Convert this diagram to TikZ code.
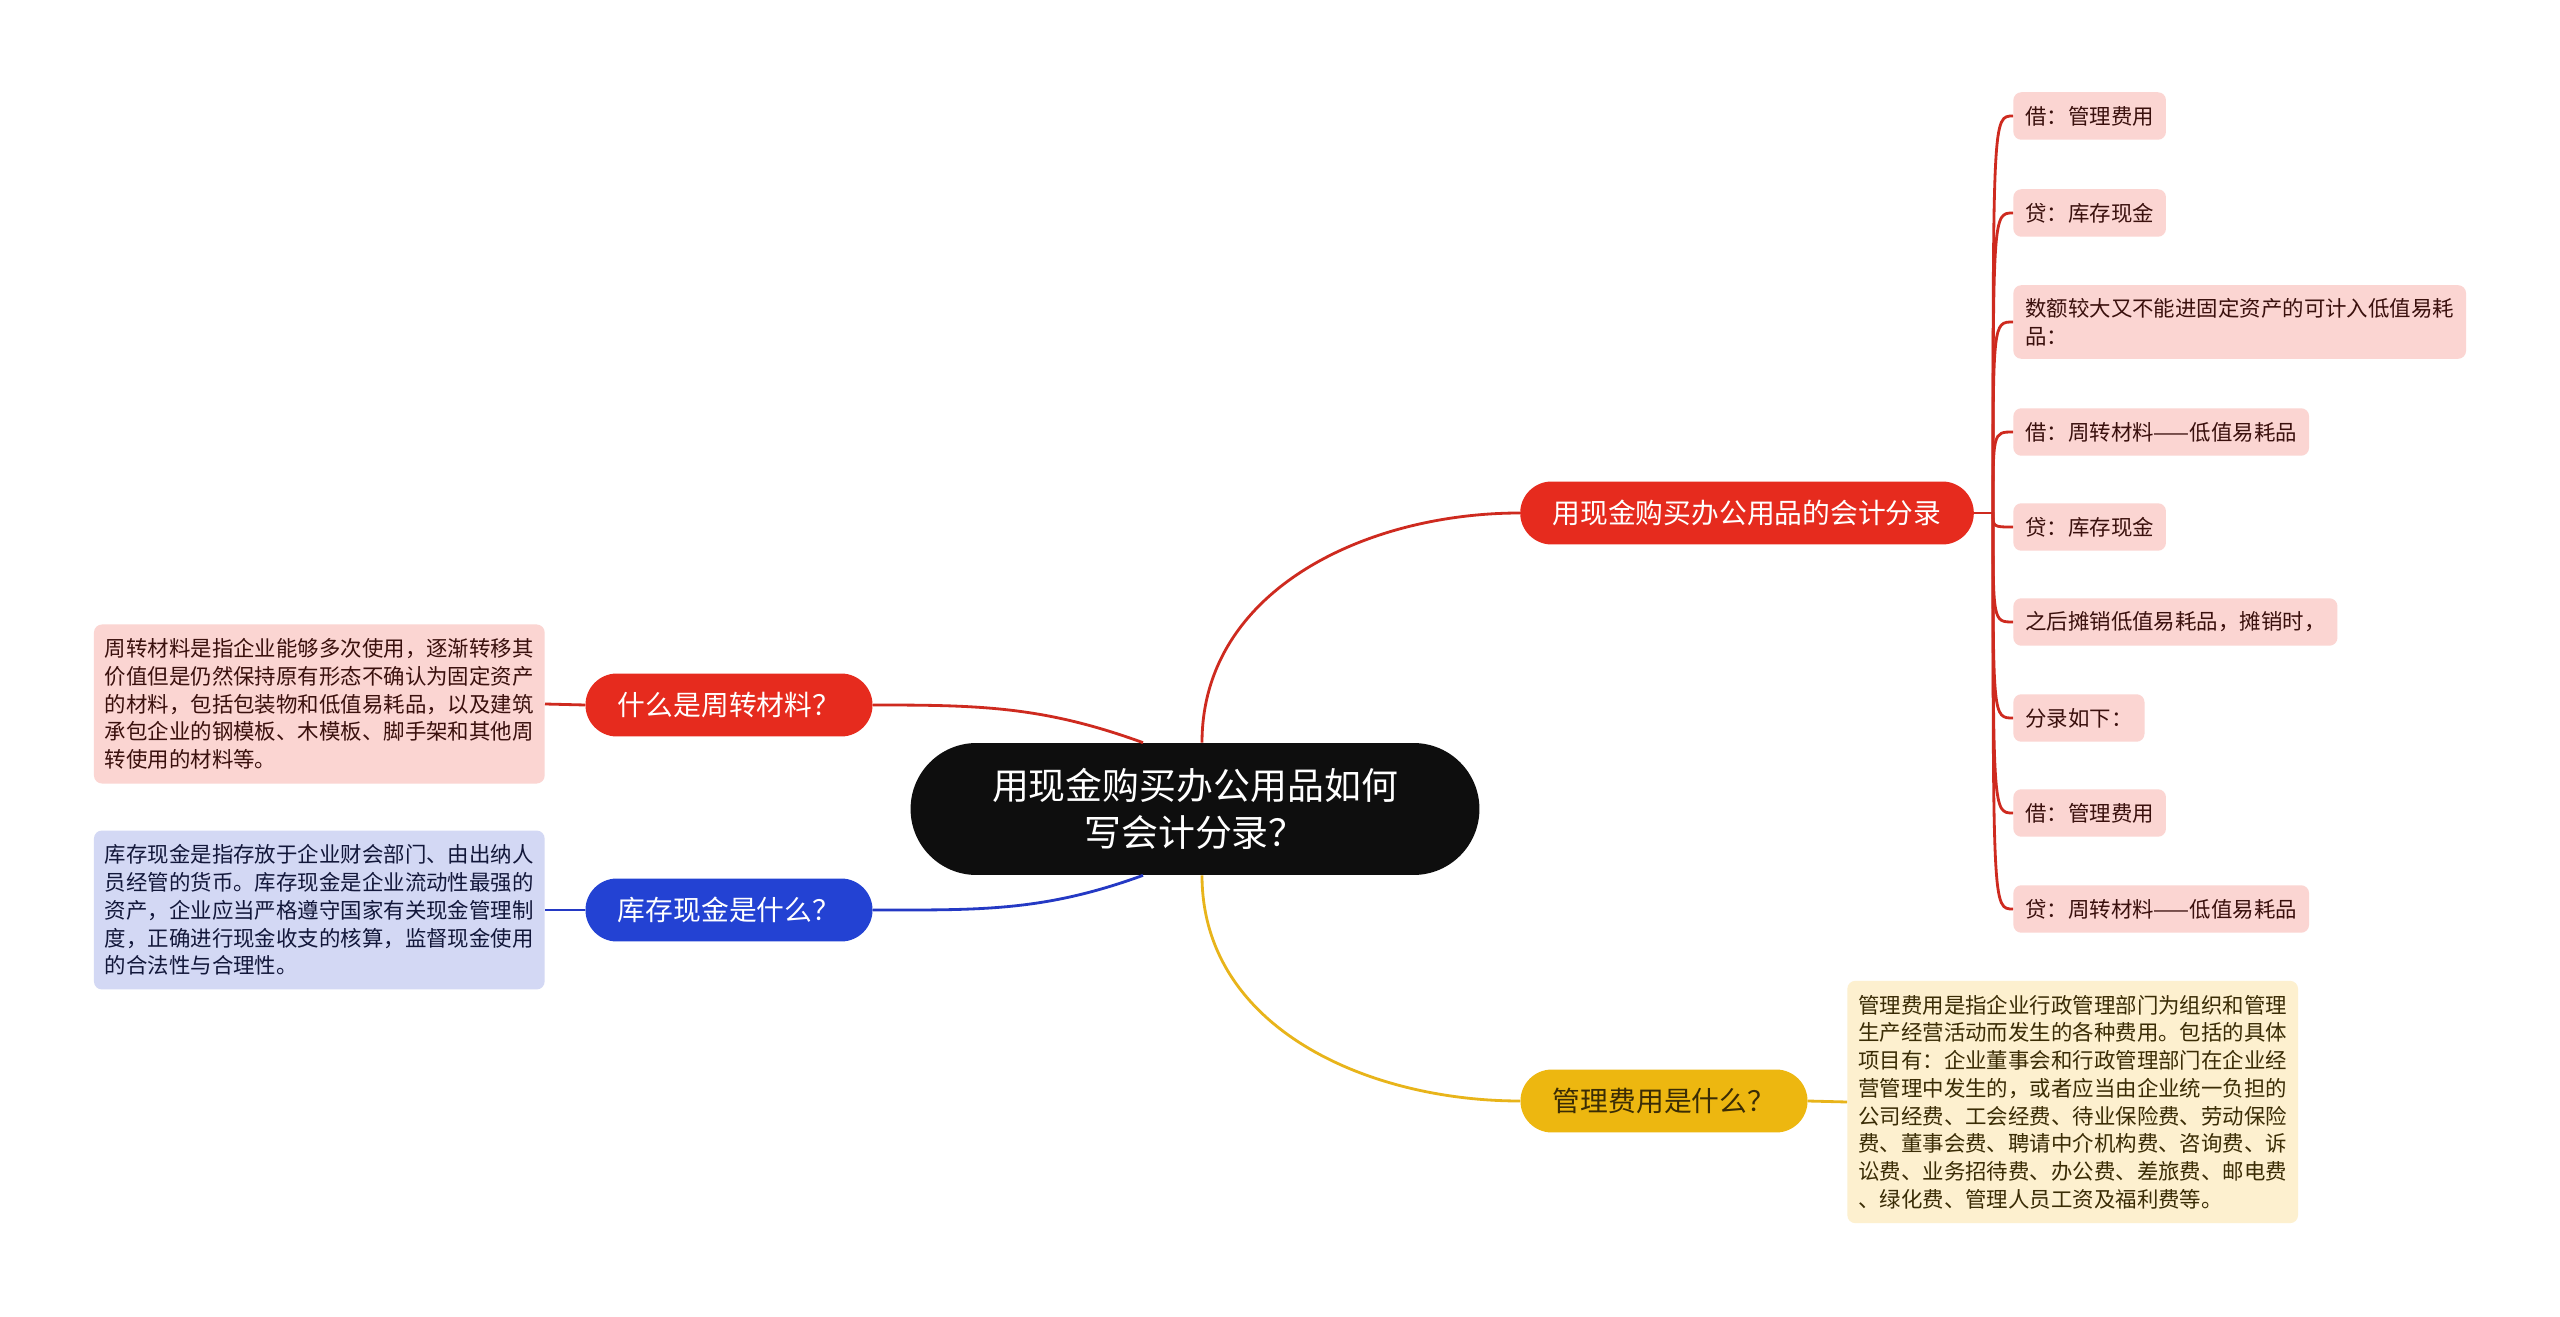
\documentclass[tikz,border=0pt]{standalone}
\usepackage{fontspec}
\setmainfont{Noto Sans CJK SC}
\usepackage{tikz}
\usetikzlibrary{positioning}
\definecolor{rootfill}{HTML}{0E0E0E}
\definecolor{redfill}{HTML}{E62B1E}
\definecolor{redline}{HTML}{CE2A1F}
\definecolor{redsoft}{HTML}{FBD5D2}
\definecolor{redtext}{HTML}{3A100D}
\definecolor{bluefill}{HTML}{2342D3}
\definecolor{blueline}{HTML}{2439C4}
\definecolor{bluesoft}{HTML}{D3D8F4}
\definecolor{bluetext}{HTML}{12173A}
\definecolor{yelfill}{HTML}{EDB710}
\definecolor{yelline}{HTML}{E8B41A}
\definecolor{yelsoft}{HTML}{FDF0CF}
\definecolor{yeltext}{HTML}{3A2C05}
\tikzset{
  central/.style={fill=rootfill, text=white, rounded corners=1.32cm, minimum width=11.38cm,
                  minimum height=2.64cm, align=center, font=\fontsize{21}{27}\selectfont},
  topic/.style={fill=#1, rounded corners=0.63cm, minimum height=1.26cm, inner xsep=0.65cm,
                font=\fontsize{15.8}{19}\selectfont},
  leaf/.style={fill=redsoft, text=redtext, rounded corners=0.16cm, anchor=west, inner xsep=0.24cm,
               inner ysep=0.26cm, minimum height=0.95cm, align=left, font=\fontsize{12.2}{15.8}\selectfont},
  note/.style={fill=#1, rounded corners=0.16cm, inner xsep=0.22cm, inner ysep=0.28cm, align=left,
               font=\fontsize{12.2}{15.8}\selectfont},
  link/.style={draw=#1, line width=1.6pt},
}

\begin{document}
\begin{tikzpicture}[x=0.02cm, y=-0.02cm]
  \useasboundingbox[fill=white] (0,0) rectangle (2560,1317);
  % centre and topics
  \node[central] (root) at (1195,809) {用现金购买办公用品如何\\写会计分录？};
  \node[topic=redfill, text=white] (entry) at (1747,513) {用现金购买办公用品的会计分录};
  \node[topic=redfill, text=white] (turnq) at (729,705) {什么是周转材料？};
  \node[topic=bluefill, text=white] (cashq) at (729,910) {库存现金是什么？};
  \node[topic=yelfill, text=yeltext] (feeq) at (1664,1101) {管理费用是什么？};
  % notes
  \node[note=redsoft, text=redtext, anchor=east] (turnnote) at (545,704) {周转材料是指企业能够多次使用，逐渐转移其\\价值但是仍然保持原有形态不确认为固定资产\\的材料，包括包装物和低值易耗品，以及建筑\\承包企业的钢模板、木模板、脚手架和其他周\\转使用的材料等。};
  \node[note=bluesoft, text=bluetext, anchor=east] (cashnote) at (545,910) {库存现金是指存放于企业财会部门、由出纳人\\员经管的货币。库存现金是企业流动性最强的\\资产，企业应当严格遵守国家有关现金管理制\\度，正确进行现金收支的核算，监督现金使用\\的合法性与合理性。};
  \node[note=yelsoft, text=yeltext, anchor=west] (feenote) at (1847,1102) {管理费用是指企业行政管理部门为组织和管理\\生产经营活动而发生的各种费用。包括的具体\\项目有：企业董事会和行政管理部门在企业经\\营管理中发生的，或者应当由企业统一负担的\\公司经费、工会经费、待业保险费、劳动保险\\费、董事会费、聘请中介机构费、咨询费、诉\\讼费、业务招待费、办公费、差旅费、邮电费\\、绿化费、管理人员工资及福利费等。};
  % entries
  \coordinate (hub) at (1993,513);
  \node[leaf] (e1) at (2013,116) {借：管理费用};
  \node[leaf] (e2) at (2013,213) {贷：库存现金};
  \node[leaf] (e3) at (2013,322) {数额较大又不能进固定资产的可计入低值易耗\\品：};
  \node[leaf] (e4) at (2013,432) {借：周转材料——低值易耗品};
  \node[leaf] (e5) at (2013,527) {贷：库存现金};
  \node[leaf] (e6) at (2013,622) {之后摊销低值易耗品，摊销时，};
  \node[leaf] (e7) at (2013,718) {分录如下：};
  \node[leaf] (e8) at (2013,813) {借：管理费用};
  \node[leaf] (e9) at (2013,909) {贷：周转材料——低值易耗品};
  % links
  \draw[link=redline] ([xshift=0.14cm]root.north) to[out=90, in=180] (entry.west);
  \draw[link=yelline] ([xshift=0.14cm]root.south) to[out=-90, in=180] (feeq.west);
  \draw[link=redline] ([xshift=-1.04cm]root.north) to[out=160, in=0] (turnq.east);
  \draw[link=blueline] ([xshift=-1.04cm]root.south) to[out=200, in=0] (cashq.east);
  \draw[link=redline] (turnq.west) -- (turnnote.east);
  \draw[link=blueline] (cashq.west) -- (cashnote.east);
  \draw[link=yelline] (feeq.east) -- (feenote.west);
  \draw[link=redline] (entry.east) -- (hub);
  \foreach \i in {1,...,9}
    \draw[link=redline] (hub) .. controls (hub |- e\i.west) .. (e\i.west);
\end{tikzpicture}
\end{document}
